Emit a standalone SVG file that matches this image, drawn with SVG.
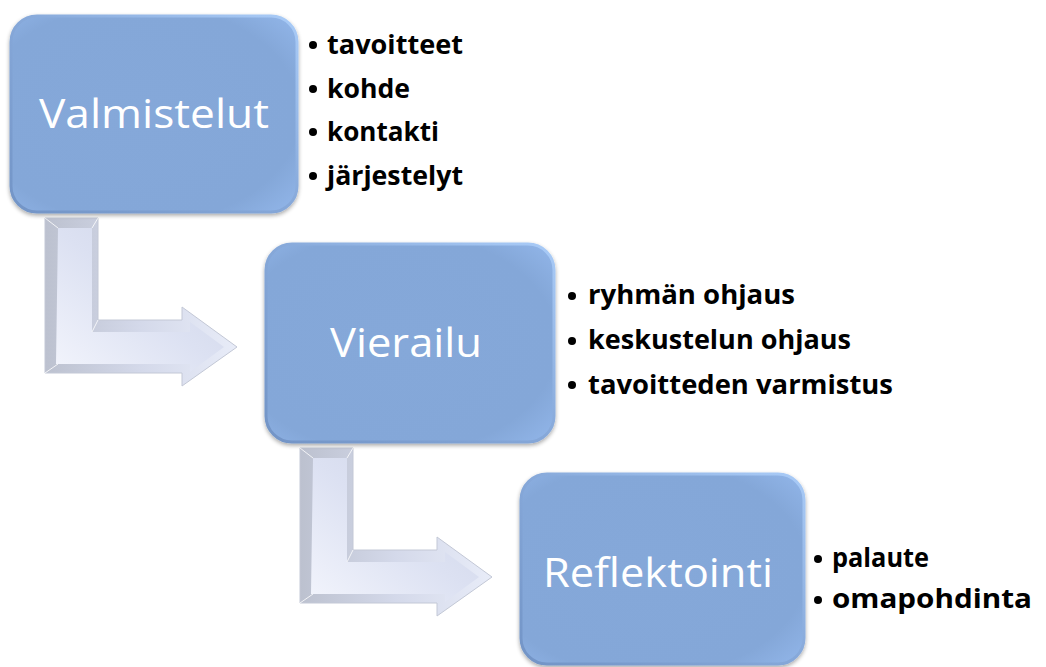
<svg xmlns="http://www.w3.org/2000/svg" width="1046" height="667" viewBox="0 0 1046 667">
<defs>
<linearGradient id="boxEdge" x1="0" y1="1" x2="1" y2="0">
<stop offset="0" stop-color="#7294c6"/>
<stop offset="0.5" stop-color="#86a8d9"/>
<stop offset="1" stop-color="#a9cbf7"/>
</linearGradient>
<radialGradient id="boxFill" cx="0.45" cy="0.5" r="0.7">
<stop offset="0" stop-color="#85a8d9"/>
<stop offset="0.8" stop-color="#84a7d8"/>
<stop offset="1" stop-color="#8fb3e6"/>
</radialGradient>
<linearGradient id="arrOuter" x1="0" y1="0" x2="1" y2="0">
<stop offset="0" stop-color="#bcc1cf"/>
<stop offset="0.5" stop-color="#d4d9ea"/>
<stop offset="1" stop-color="#e8ecf8"/>
</linearGradient>
<linearGradient id="arrInner" x1="0" y1="1" x2="1" y2="0">
<stop offset="0" stop-color="#f2f4fc"/>
<stop offset="0.5" stop-color="#dce1f2"/>
<stop offset="1" stop-color="#cdd3e6"/>
</linearGradient>
<filter id="shadow" x="-10%" y="-10%" width="120%" height="125%">
<feGaussianBlur in="SourceAlpha" stdDeviation="2"/>
<feOffset dx="0" dy="2"/>
<feComponentTransfer><feFuncA type="linear" slope="0.35"/></feComponentTransfer>
<feMerge><feMergeNode/><feMergeNode in="SourceGraphic"/></feMerge>
</filter>
<g id="bentArrow">
<path d="M45,218 L98,218 L98,320 L182,320 L182,307 L237,347 L182,386 L182,373 L45,373 Z" fill="url(#arrOuter)" stroke="#c3c8d6" stroke-width="1"/>
<path d="M58,228 L92,228 L92,332 L190,332 L190,322 L224,347 L190,372 L190,364 L56,364 Z" fill="url(#arrInner)"/>
<path d="M45,373 L58,364 M45,218 L58,228 M98,218 L92,228 M98,320 L92,332" stroke="#ffffff" stroke-width="1" fill="none" opacity="0.8"/>
</g>
</defs>
<style>
.box{fill:url(#boxFill);stroke:url(#boxEdge);stroke-width:3;filter:url(#shadow);}
.label{font-family:"Open Sans","Liberation Sans",Arial,sans-serif;font-size:41px;fill:#ffffff;text-anchor:middle;}
.bul{font-family:"Open Sans","Liberation Sans",Arial,sans-serif;font-size:27px;font-weight:bold;fill:#000000;}
.dot{fill:#000000;}
</style>
<g id="connectors">
<use href="#bentArrow"/>
<use href="#bentArrow" transform="translate(255,230)"/>
</g>
<g id="valmistelut">
<rect class="box" x="11" y="16" width="286" height="196" rx="26"/>
<text class="label" x="154" y="128" textLength="230" lengthAdjust="spacingAndGlyphs">Valmistelut</text>
</g>
<g id="valmistelut-list">
<circle class="dot" cx="313" cy="45" r="4"/>
<text class="bul" x="327" y="54" textLength="136" lengthAdjust="spacingAndGlyphs">tavoitteet</text>
<circle class="dot" cx="313" cy="89" r="4"/>
<text class="bul" x="327" y="98" textLength="83" lengthAdjust="spacingAndGlyphs">kohde</text>
<circle class="dot" cx="313" cy="132" r="4"/>
<text class="bul" x="327" y="141" textLength="112" lengthAdjust="spacingAndGlyphs">kontakti</text>
<circle class="dot" cx="313" cy="176" r="4"/>
<text class="bul" x="327" y="185" textLength="136" lengthAdjust="spacingAndGlyphs">järjestelyt</text>
</g>
<g id="vierailu">
<rect class="box" x="266" y="244" width="288" height="198" rx="26"/>
<text class="label" x="406" y="357" textLength="152" lengthAdjust="spacingAndGlyphs">Vierailu</text>
</g>
<g id="vierailu-list">
<circle class="dot" cx="572" cy="296" r="4"/>
<text class="bul" x="588" y="304" textLength="207" lengthAdjust="spacingAndGlyphs">ryhmän ohjaus</text>
<circle class="dot" cx="572" cy="341" r="4"/>
<text class="bul" x="588" y="349" textLength="263" lengthAdjust="spacingAndGlyphs">keskustelun ohjaus</text>
<circle class="dot" cx="572" cy="385" r="4"/>
<text class="bul" x="588" y="394" textLength="305" lengthAdjust="spacingAndGlyphs">tavoitteden varmistus</text>
</g>
<g id="reflektointi">
<rect class="box" x="521" y="474" width="283" height="190" rx="26"/>
<text class="label" x="658" y="587" textLength="230" lengthAdjust="spacingAndGlyphs">Reflektointi</text>
</g>
<g id="reflektointi-list">
<circle class="dot" cx="818" cy="559" r="4"/>
<text class="bul" x="832" y="567" textLength="97" lengthAdjust="spacingAndGlyphs">palaute</text>
<circle class="dot" cx="818" cy="600" r="4"/>
<text class="bul" x="832" y="608" textLength="200" lengthAdjust="spacingAndGlyphs">omapohdinta</text>
</g>
</svg>
